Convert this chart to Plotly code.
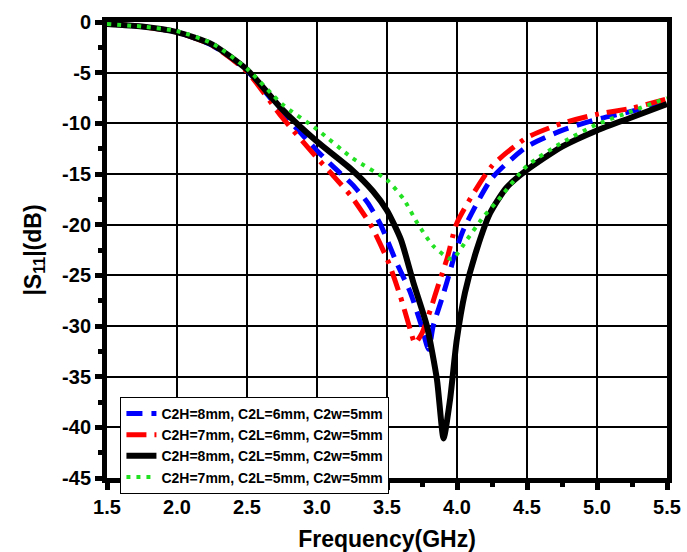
import plotly.graph_objects as go

# ---- data ----
labels = [
    "C2H=8mm, C2L=6mm, C2w=5mm",
    "C2H=7mm, C2L=6mm, C2w=5mm",
    "C2H=8mm, C2L=5mm, C2w=5mm",
    "C2H=7mm, C2L=5mm, C2w=5mm",
]

f_blue = [1.5, 1.75, 2.0, 2.25, 2.5, 2.75, 3.0, 3.125, 3.25, 3.36, 3.454, 3.57, 3.667, 3.74, 3.797,
          3.83, 3.89, 3.94, 3.987, 4.046, 4.25, 4.5, 4.75, 5.0, 5.25, 5.5]
s_blue = [-0.2, -0.45, -1.0, -2.3, -4.8, -8.9, -12.7, -14.4, -16.0, -17.8, -20.0, -23.8, -26.7, -29.7, -32.3,
          -30.0, -27.4, -25.1, -22.8, -20.5, -15.4, -12.3, -10.7, -9.6, -8.8, -7.8]

f_red = [1.5, 1.75, 2.0, 2.25, 2.5, 2.75, 3.0, 3.125, 3.25, 3.395, 3.513, 3.596, 3.667, 3.70, 3.75,
         3.81, 3.87, 3.93, 4.0, 4.25, 4.5, 4.75, 5.0, 5.25, 5.5]
s_red = [-0.2, -0.45, -1.0, -2.3, -4.9, -9.4, -13.4, -15.3, -17.3, -20.3, -23.8, -27.1, -30.4, -31.7, -30.7,
         -28.4, -25.8, -23.3, -19.8, -14.2, -11.4, -10.0, -9.1, -8.5, -7.6]

f_black = [1.5, 1.75, 2.0, 2.25, 2.5, 2.75, 3.0, 3.25, 3.4, 3.5, 3.6, 3.69, 3.785, 3.857, 3.904,
           3.95, 3.998, 4.057, 4.14, 4.235, 4.35, 4.5, 4.75, 5.0, 5.25, 5.5]
s_black = [-0.2, -0.45, -1.0, -2.2, -4.7, -8.6, -11.8, -14.6, -16.7, -18.6, -21.5, -25.8, -30.0, -35.3, -41.1,
           -37.3, -31.4, -26.7, -22.5, -18.9, -16.4, -14.6, -12.3, -10.7, -9.4, -8.1]

f_green = [1.5, 1.75, 2.0, 2.25, 2.5, 2.75, 3.0, 3.25, 3.5, 3.62, 3.715, 3.83, 3.963, 4.07,
           4.19, 4.28, 4.5, 4.75, 5.0, 5.25, 5.5]
s_green = [-0.2, -0.45, -0.9, -2.1, -4.6, -8.1, -10.6, -13.4, -15.6, -17.5, -19.8, -22.1, -23.4, -21.5,
           -19.2, -17.8, -14.2, -11.9, -10.1, -8.8, -7.5]

x_ticks = [1.5, 2.0, 2.5, 3.0, 3.5, 4.0, 4.5, 5.0, 5.5]
y_ticks = [0, -5, -10, -15, -20, -25, -30, -35, -40, -45]

FONT = "Liberation Sans, Arial, sans-serif"

fig = go.Figure()
fig.add_trace(go.Scatter(x=f_blue, y=s_blue, mode="lines", name="<b>" + labels[0] + "</b>",
                         line=dict(color="#0000ff", width=5, dash="16px,9px", shape="spline", smoothing=0.6)))
fig.add_trace(go.Scatter(x=f_red, y=s_red, mode="lines", name="<b>" + labels[1] + "</b>",
                         line=dict(color="#ff0000", width=5, dash="20px,8px,4px,8px", shape="spline", smoothing=0.6)))
fig.add_trace(go.Scatter(x=f_black, y=s_black, mode="lines", name="<b>" + labels[2] + "</b>",
                         line=dict(color="#000000", width=6, shape="spline", smoothing=0.6)))
fig.add_trace(go.Scatter(x=f_green, y=s_green, mode="lines", name="<b>" + labels[3] + "</b>",
                         line=dict(color="#22e022", width=4, dash="4px,6px", shape="spline", smoothing=0.6)))

axis_common = dict(
    showline=True, linecolor="black", linewidth=5, mirror=True,
    showgrid=True, gridcolor="black", gridwidth=2,
    ticks="outside", ticklen=7, tickwidth=5, tickcolor="black",
    tickfont=dict(family=FONT, size=20, color="black", weight=700),
    zeroline=False, automargin=False,
)

fig.update_xaxes(
    range=[1.5, 5.5], tickvals=x_ticks, ticktext=[f"<b>{v:.1f}</b>" for v in x_ticks],
    minor=dict(ticks="outside", ticklen=4, tickwidth=5, tickcolor="black", dtick=0.25, tick0=1.5, showgrid=False),
    title=dict(text="<b>Frequency(GHz)</b>", font=dict(family=FONT, size=23, color="black"), standoff=16),
    **axis_common,
)
fig.update_yaxes(
    range=[-45, 0], tickvals=y_ticks, ticktext=[f"<b>{v}</b>" for v in y_ticks],
    minor=dict(ticks="outside", ticklen=4, tickwidth=5, tickcolor="black", dtick=2.5, tick0=0, showgrid=False),
    title=dict(text="<b>|S<sub>11</sub>|(dB)</b>", font=dict(family=FONT, size=23, color="black"), standoff=16),
    **axis_common,
)

fig.update_layout(
    width=687, height=552,
    margin=dict(l=107, r=20, t=22, b=74),
    paper_bgcolor="white", plot_bgcolor="white",
    showlegend=True,
    legend=dict(
        x=0.024, y=0.178, xanchor="left", yanchor="top",
        bgcolor="white", bordercolor="black", borderwidth=1,
        font=dict(family=FONT, size=14, color="black", weight=700),
        tracegroupgap=0, itemwidth=30,
    ),
)

fig.write_html("out.html")
